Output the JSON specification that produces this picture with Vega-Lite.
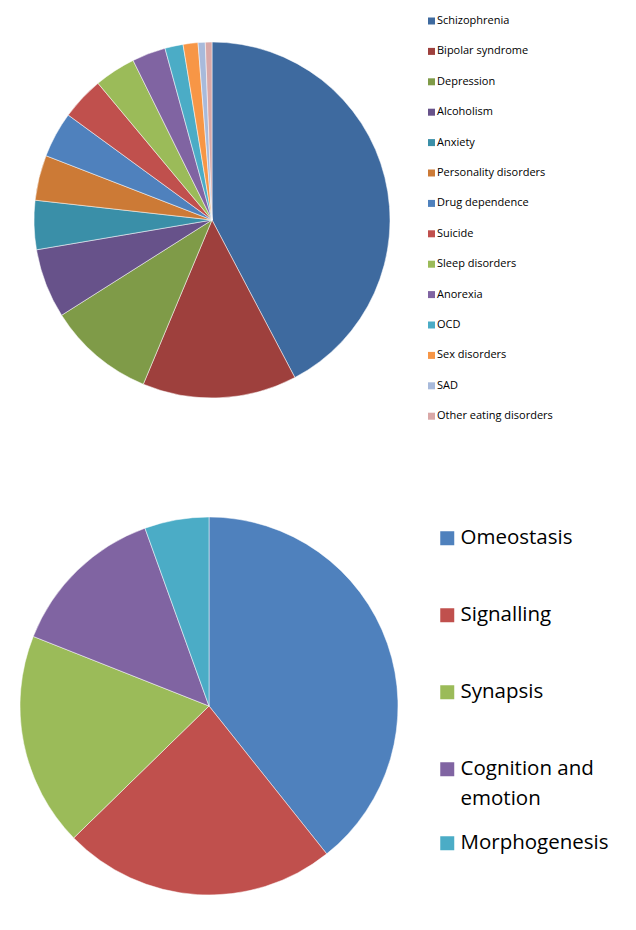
{
  "$schema": "https://vega.github.io/schema/vega-lite/v6.json",
  "padding": 0,
  "background": "white",
  "spacing": 76,
  "config": {
    "view": {"stroke": null},
    "style": {"guide-label": {"lineHeight": 30}},
    "legend": {
      "padding": 0,
      "symbolStrokeWidth": 0,
      "symbolType": "square",
      "labelFont": "Open Sans",
      "labelColor": "#000000",
      "labelLimit": 400
    }
  },
  "resolve": {
    "scale": {"color": "independent", "theta": "independent", "opacity": "independent"},
    "legend": {"color": "independent", "opacity": "independent"}
  },
  "vconcat": [
    {
      "width": 424,
      "height": 440,
      "data": {
        "values": [
          {"disorder": "Schizophrenia", "share": 42.25, "rank": 1},
          {"disorder": "Bipolar syndrome", "share": 14.0, "rank": 2},
          {"disorder": "Depression", "share": 9.7, "rank": 3},
          {"disorder": "Alcoholism", "share": 6.3, "rank": 4},
          {"disorder": "Anxiety", "share": 4.45, "rank": 5},
          {"disorder": "Personality disorders", "share": 4.1, "rank": 6},
          {"disorder": "Drug dependence", "share": 4.15, "rank": 7},
          {"disorder": "Suicide", "share": 3.9, "rank": 8},
          {"disorder": "Sleep disorders", "share": 3.75, "rank": 9},
          {"disorder": "Anorexia", "share": 3.05, "rank": 10},
          {"disorder": "OCD", "share": 1.65, "rank": 11},
          {"disorder": "Sex disorders", "share": 1.35, "rank": 12},
          {"disorder": "SAD", "share": 0.65, "rank": 13},
          {"disorder": "Other eating disorders", "share": 0.6, "rank": 14}
        ]
      },
      "mark": {"type": "arc", "outerRadius": 178, "stroke": "#ffffff", "strokeWidth": 0.5},
      "encoding": {
        "theta": {"field": "share", "type": "quantitative", "stack": true},
        "order": {"field": "rank", "type": "quantitative"},
        "color": {
          "field": "disorder",
          "type": "nominal",
          "scale": {
            "domain": ["Schizophrenia", "Bipolar syndrome", "Depression", "Alcoholism", "Anxiety", "Personality disorders", "Drug dependence", "Suicide", "Sleep disorders", "Anorexia", "OCD", "Sex disorders", "SAD", "Other eating disorders"],
            "range": ["#3E6A9F", "#9E403D", "#7F9B48", "#67528A", "#3A8FA8", "#CC7A36", "#4F81BD", "#C0504D", "#9BBB59", "#8064A2", "#4BACC6", "#F79646", "#A8BADB", "#D9A8A7"]
          },
          "legend": {
            "orient": "none",
            "legendX": 426,
            "legendY": 15.5,
            "title": null,
            "labelFontSize": 11,
            "symbolSize": 49,
            "labelOffset": 0,
            "rowPadding": 18.4
          }
        }
      }
    },
    {
      "width": 418,
      "height": 380,
      "data": {
        "values": [
          {"area": "Omeostasis", "item": "Omeostasis", "share": 39.3, "rank": 1},
          {"area": "Signalling", "item": "Signalling", "share": 23.4, "rank": 2},
          {"area": "Synapsis", "item": "Synapsis", "share": 18.3, "rank": 3},
          {"area": "Cognition and emotion", "item": "Cognition and emotion", "share": 13.5, "rank": 4},
          {"area": "Morphogenesis", "item": "Morphogenesis", "share": 5.5, "rank": 5}
        ]
      },
      "mark": {"type": "arc", "outerRadius": 189, "stroke": "#ffffff", "strokeWidth": 0.5},
      "encoding": {
        "theta": {"field": "share", "type": "quantitative", "stack": true},
        "order": {"field": "rank", "type": "quantitative"},
        "color": {
          "field": "area",
          "type": "nominal",
          "scale": {
            "domain": ["Omeostasis", "Signalling", "Synapsis", "Cognition and emotion", "Morphogenesis"],
            "range": ["#4F81BD", "#C0504D", "#9BBB59", "#8064A2", "#4BACC6"]
          },
          "legend": {
            "orient": "none",
            "legendX": 437,
            "legendY": 12,
            "title": null,
            "values": ["Omeostasis", "Signalling", "Synapsis", "Cognition and emotion"],
            "labelFontSize": 20.5,
            "symbolSize": 196,
            "labelOffset": 3,
            "rowPadding": 56,
            "labelExpr": "datum.label == 'Cognition and emotion' ? ['Cognition and', 'emotion'] : datum.label"
          }
        },
        "opacity": {
          "field": "item",
          "type": "nominal",
          "scale": {"range": [1, 1]},
          "legend": {
            "orient": "none",
            "legendX": 437,
            "legendY": 317,
            "title": null,
            "values": ["Morphogenesis"],
            "labelFontSize": 20.5,
            "symbolSize": 196,
            "labelOffset": 3,
            "symbolFillColor": "#4BACC6",
            "encode": {"symbols": {"fill": {"value": "#4BACC6"}, "opacity": {"value": 1}}}
          }
        }
      }
    }
  ]
}
